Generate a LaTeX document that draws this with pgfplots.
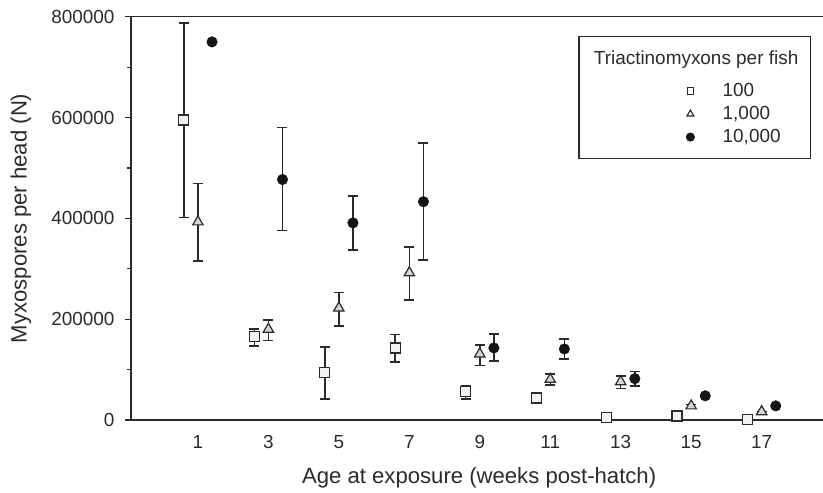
\documentclass[border=0pt]{standalone}
\usepackage{pgfplots}
\pgfplotsset{compat=1.18}
\usepackage{pgfplotstable}
\usepackage{fontspec}
\setmainfont{Liberation Sans}
\definecolor{ln}{HTML}{2B2B2B}
\definecolor{sqfill}{HTML}{F2F2F2}
\definecolor{trfill}{HTML}{D6D6D6}
\definecolor{circ}{HTML}{151515}
\newcommand{\fs}{\fontsize{19}{23}\selectfont}
\newcommand{\fl}{\fontsize{22.2}{26}\selectfont}

\pgfplotstableread{
x y ep em
0.6 595000 192500 193000
2.6 165000 16000 18000
4.6 94000 51000 52300
6.6 143000 27000 28000
8.6 56000 11000 14000
10.6 43600 0 0
12.6 4600 0 0
14.6 8000 0 0
16.6 1000 0 0
}\sq
\pgfplotstableread{
x y ep em
1 393000 76000 78000
3 180000 18000 22000
5 222000 30500 36000
7 292000 51000 54000
9 131000 18000 22500
11 80700 10300 11700
13 76000 11000 14000
15 28000 3000 3000
17 16500 0 0
}\tri
\pgfplotstableread{
x y ep em
1.4 750000 0 0
3.4 477000 103600 101500
5.4 391000 53000 54000
7.4 433000 116000 116000
9.4 143000 28000 26000
11.4 141000 20000 20000
13.4 82000 14000 15000
15.4 48000 3000 3000
17.4 28000 0 0
}\cir

\pgfplotsset{
  myerr/.style={
    error bars/y dir=both, error bars/y explicit,
    error bars/error bar style={ln, line width=1.5bp},
    error bars/error mark options={ln, line width=1.5bp, mark size=5bp, rotate=90},
  }
}

\begin{document}
\fs
\begin{tikzpicture}
\path[use as bounding box] (-131bp,-73bp) rectangle (692bp,420bp);
\begin{axis}[
  at={(0,0)}, anchor=south west,
  scale only axis,
  width=701.1bp, height=403.3bp,
  xmin=-0.9, xmax=19,
  ymin=0, ymax=800000,
  clip=false,
  axis line style={ln, line width=1.3bp},
  xtick={1,3,...,17},
  xtick style={draw=none},
  xticklabel style={yshift=-3bp},
  ytick={0,200000,...,800000},
  minor ytick={100000,300000,500000,700000},
  ytick style={ln, line width=1.2bp},
  minor tick style={ln, line width=1.2bp},
  tick align=outside,
  ytick pos=left,
  major tick length=6bp,
  minor tick length=4bp,
  scaled y ticks=false,
  yticklabel style={/pgf/number format/fixed, /pgf/number format/1000 sep={}, xshift=-4bp},
  /pgf/number format/assume math mode=true,
  tick label style={font=\fs, text=ln},
  xlabel={Age at exposure (weeks post-hatch)},
  ylabel={Myxospores per head (N)},
  xlabel style={at={(axis description cs:0.4966,0)}, anchor=center, yshift=-58bp, font=\fl, text=ln},
  ylabel style={at={(axis description cs:-0.1569,0.5)}, anchor=center, font=\fl, text=ln},
  legend style={at={(axis cs:14.85,607000)}, anchor=west, draw=none, fill=none,
    font=\fs, text=ln, row sep=3bp, inner sep=0bp, column sep=26bp,
    nodes={inner sep=2bp}},
  legend cell align=left,
]
\draw[ln, line width=1.1bp] (axis cs:11.815,519100) rectangle (axis cs:18.39,760300);
\node[text=ln, font=\fs] at (axis cs:15.14,714000) {Triactinomyxons per fish};

\addplot[only marks, mark=square*, mark size=5bp, mark options={draw=ln, fill=sqfill, line width=1.2bp}, myerr,
  legend image code/.code={\draw[only marks, mark=square*, mark size=3.3bp, mark options={draw=ln, fill=white, line width=1.1bp}] plot coordinates {(0cm,0cm)};}]
  table[x=x, y=y, y error plus=ep, y error minus=em]{\sq};
\addlegendentry{100}
\addplot[only marks, mark=triangle*, mark size=6bp, mark options={draw=ln, fill=trfill, line width=1.2bp}, myerr,
  legend image code/.code={\draw[only marks, mark=triangle*, mark size=4bp, mark options={draw=ln, fill=white, line width=1.1bp}] plot coordinates {(0cm,0cm)};}]
  table[x=x, y=y, y error plus=ep, y error minus=em]{\tri};
\addlegendentry{1,000}
\addplot[only marks, mark=*, mark size=5.3bp, mark options={draw=circ, fill=circ}, myerr,
  legend image code/.code={\draw[only marks, mark=*, mark size=4.3bp, mark options={draw=circ, fill=circ}] plot coordinates {(0cm,0cm)};}]
  table[x=x, y=y, y error plus=ep, y error minus=em]{\cir};
\addlegendentry{10,000}
\end{axis}
\end{tikzpicture}
\end{document}
